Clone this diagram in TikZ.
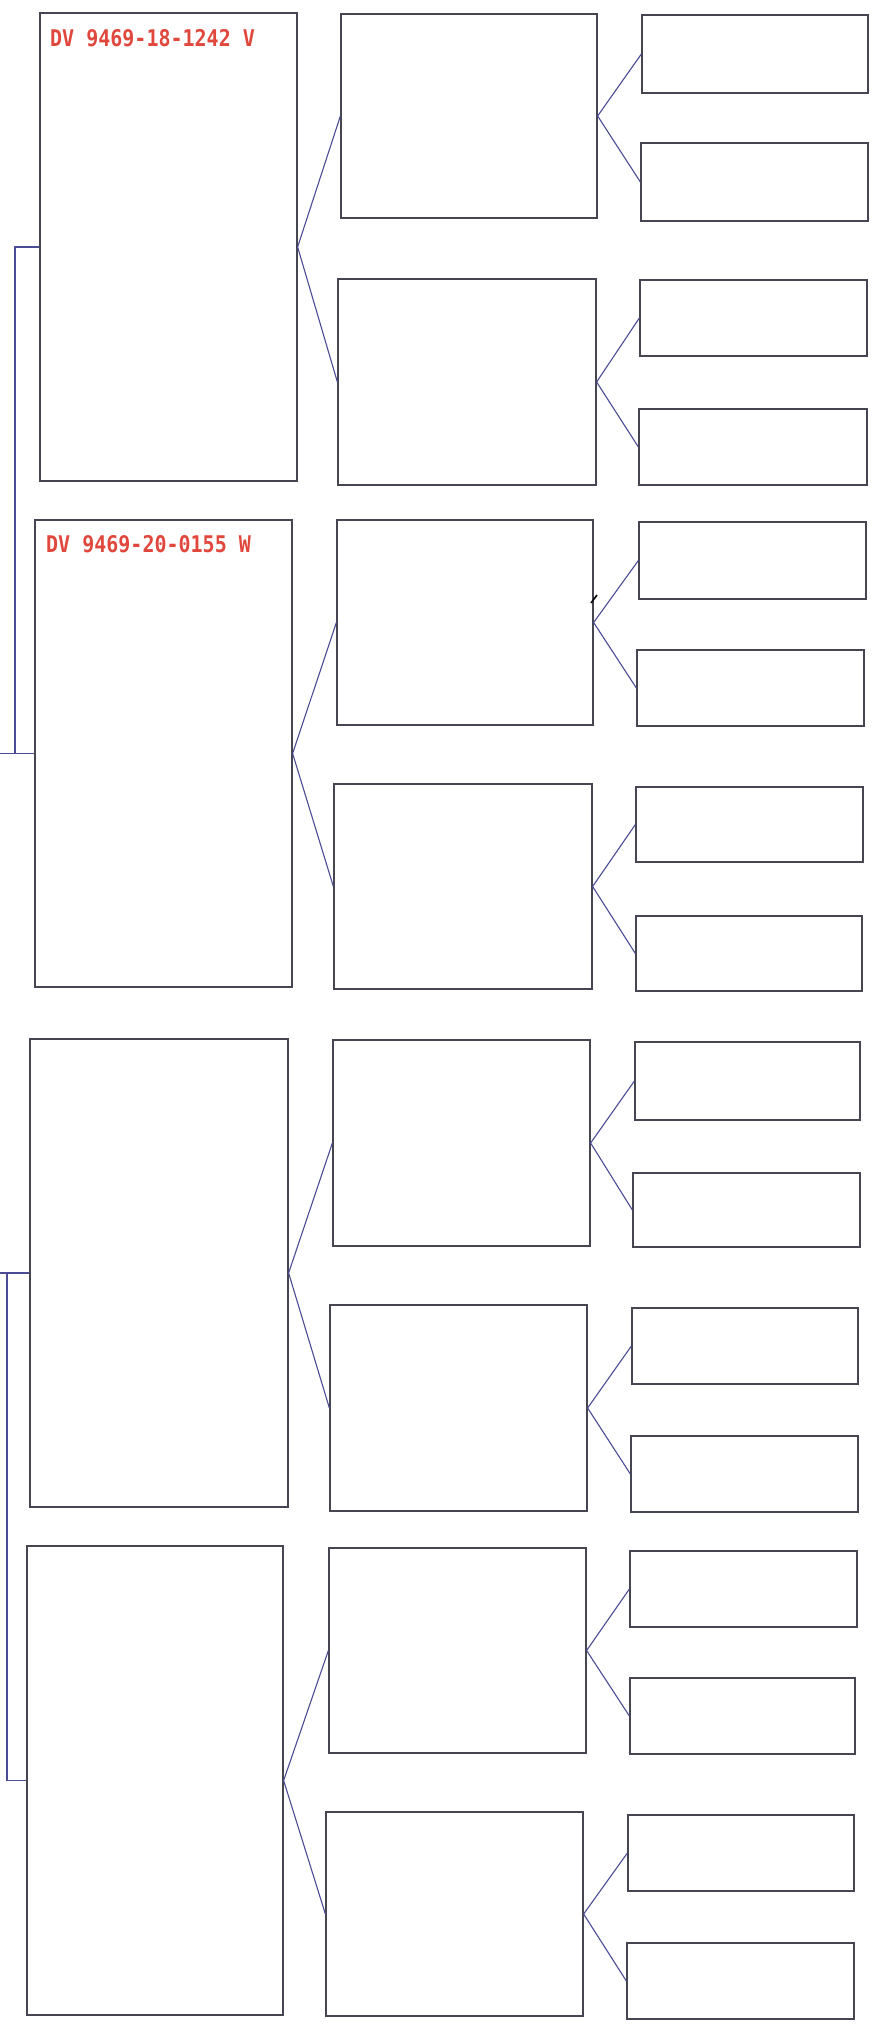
\documentclass[tikz,border=0pt]{standalone}
\usepackage{fontspec}
\usepackage{graphicx}
\usetikzlibrary{fit}
\newfontfamily\dvmono{DejaVu Sans Mono}
\definecolor{dvred}{RGB}{224,72,62}
\definecolor{boxline}{RGB}{70,70,82}
\definecolor{linkblue}{RGB}{75,75,150}
\begin{document}
\begin{tikzpicture}[x=1pt,y=-1pt,
  box/.style={draw=boxline, line width=1.25pt, inner sep=0pt, rectangle},
  link/.style={draw=linkblue, line width=1.1pt},
  idlabel/.style={anchor=base west, text=dvred, inner sep=0pt,
    font=\dvmono\bfseries\fontsize{20}{24}\selectfont}]
\useasboundingbox[fill=white] (0,0) rectangle (872,2024);
% generation 1
\node[box, fit={(40,13) (297,481)}] (b1) {};
\node[box, fit={(35,520) (292,987)}] (b2) {};
\node[box, fit={(30,1039) (288,1507)}] (b3) {};
\node[box, fit={(27,1546) (283,2015)}] (b4) {};
% generation 2
\node[box, fit={(341,14) (597,218)}] (m1) {};
\node[box, fit={(338,279) (596,485)}] (m2) {};
\node[box, fit={(337,520) (593,725)}] (m3) {};
\node[box, fit={(334,784) (592,989)}] (m4) {};
\node[box, fit={(333,1040) (590,1246)}] (m5) {};
\node[box, fit={(330,1305) (587,1511)}] (m6) {};
\node[box, fit={(329,1548) (586,1753)}] (m7) {};
\node[box, fit={(326,1812) (583,2016)}] (m8) {};
% generation 3
\node[box, fit={(642,15) (868,93)}] (r1) {};
\node[box, fit={(641,143) (868,221)}] (r2) {};
\node[box, fit={(640,280) (867,356)}] (r3) {};
\node[box, fit={(639,409) (867,485)}] (r4) {};
\node[box, fit={(639,522) (866,599)}] (r5) {};
\node[box, fit={(637,650) (864,726)}] (r6) {};
\node[box, fit={(636,787) (863,862)}] (r7) {};
\node[box, fit={(636,916) (862,991)}] (r8) {};
\node[box, fit={(635,1042) (860,1120)}] (r9) {};
\node[box, fit={(633,1173) (860,1247)}] (r10) {};
\node[box, fit={(632,1308) (858,1384)}] (r11) {};
\node[box, fit={(631,1436) (858,1512)}] (r12) {};
\node[box, fit={(630,1551) (857,1627)}] (r13) {};
\node[box, fit={(630,1678) (855,1754)}] (r14) {};
\node[box, fit={(628,1815) (854,1891)}] (r15) {};
\node[box, fit={(627,1943) (854,2019)}] (r16) {};
% labels
\node[idlabel] (t1) at (50,46) {\scalebox{1}[1.15]{DV 9469-18-1242 V}};
\node[idlabel] (t2) at (46,552) {\scalebox{1}[1.15]{DV 9469-20-0155 W}};
% connectors gen1 -> gen2
\foreach \b/\u/\d in {b1/m1/m2, b2/m3/m4, b3/m5/m6, b4/m7/m8}{
  \draw[link] (\u.west) -- (\b.east) -- (\d.west);
}
% connectors gen2 -> gen3
\foreach \m/\u/\d in {m1/r1/r2, m2/r3/r4, m3/r5/r6, m4/r7/r8,
                      m5/r9/r10, m6/r11/r12, m7/r13/r14, m8/r15/r16}{
  \draw[link] (\u.west) -- (\m.east) -- (\d.west);
}
% left brackets
\coordinate (edgeL) at (0,0);
\coordinate (ubr) at (15,0);
\coordinate (lbr) at (7,0);
\draw[link] (b1.west) -| (ubr |- b2.west);
\draw[link] (b2.west) -- (edgeL |- b2.west);
\draw[link] (b4.west) -| (lbr |- b3.west);
\draw[link] (b3.west) -- (edgeL |- b3.west);
% small stray mark
\draw[black, line width=1.6pt] (591,603) -- (597,595);
\end{tikzpicture}
\end{document}
